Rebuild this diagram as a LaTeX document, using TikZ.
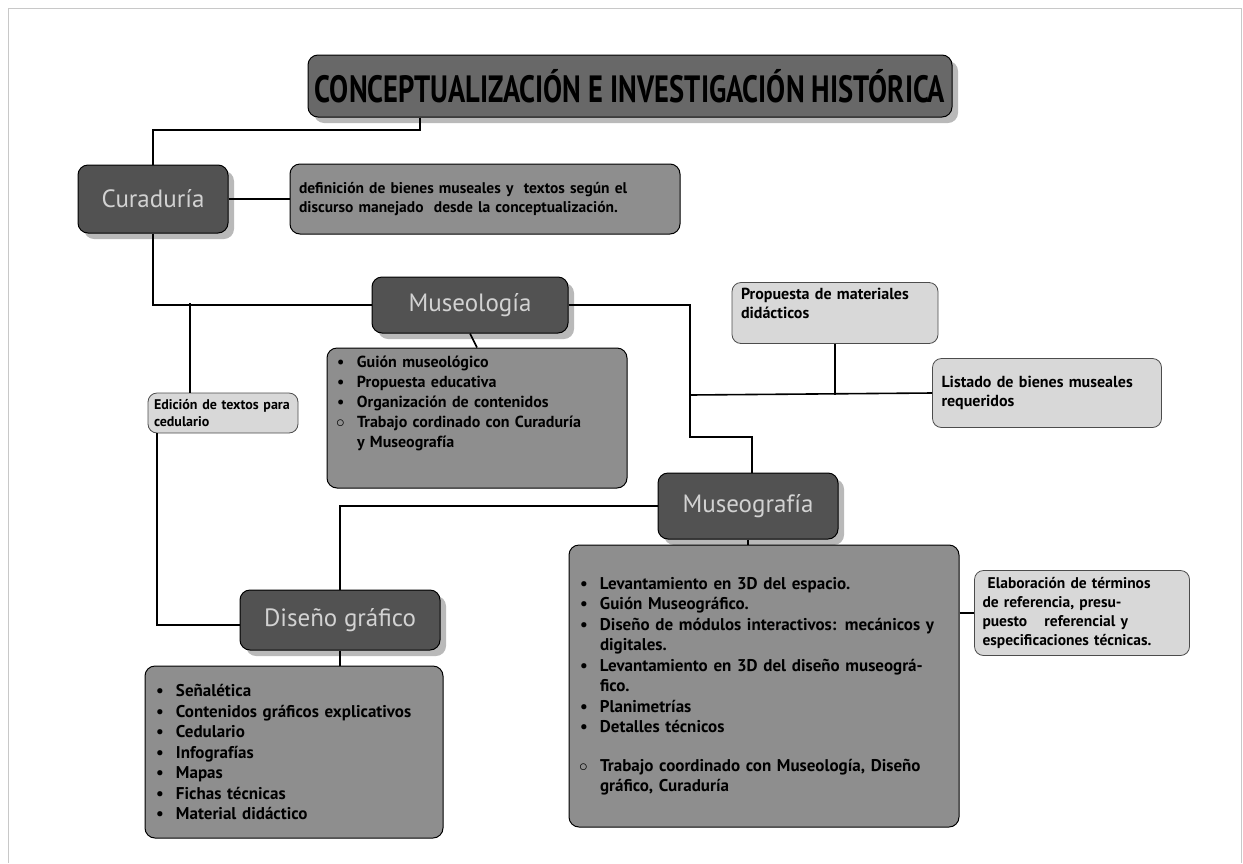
\documentclass[tikz,border=0pt]{standalone}
\usepackage{fontspec}
\setmainfont{PT Sans}
\usepackage{tikz}
\usetikzlibrary{shadows}
\definecolor{dgray}{RGB}{82, 82, 82}
\definecolor{tgray}{RGB}{104, 104, 104}
\definecolor{mgray}{RGB}{142, 142, 142}
\definecolor{lgray}{RGB}{216, 216, 216}
\definecolor{fgray}{RGB}{200, 200, 200}
\definecolor{ltext}{RGB}{210, 210, 210}
\newcommand{\bul}[1]{\makebox[22pt][l]{\hspace{2pt}\textbullet}#1}
\newcommand{\obul}[1]{\makebox[22pt][l]{\hspace{1pt}$\circ$}#1}
\newcommand{\cont}[1]{\hspace*{22pt}#1}

\begin{document}
\begin{tikzpicture}[x=1pt, y=-1pt, line width=1.6pt,
	darkbox/.style={rounded corners=10pt, draw=black, line width=1pt, fill=dgray, text=ltext,
		font=\fontsize{25}{28}\selectfont, drop shadow={shadow xshift=6pt, shadow yshift=-6pt, opacity=.55}},
	midbox/.style={rounded corners=10pt, draw=black, line width=1pt, fill=mgray, align=left,
		font=\fontsize{16}{20}\selectfont\bfseries},
	lightbox/.style={rounded corners=9pt, draw=black!70, line width=.8pt, fill=lgray, align=left,
		font=\fontsize{16}{19}\selectfont\bfseries}]
	\useasboundingbox (0,0) rectangle (1243,863);
	\draw[fgray, line width=1pt] (8,863) -- (8,8) -- (1241,8) -- (1241,863);

	\node (title) at (630,86) [darkbox, fill=tgray, text=black, minimum width=644pt, minimum height=62pt,
		font=\fontsize{38}{40}\selectfont\bfseries] {\scalebox{0.75}[1]{CONCEPTUALIZACIÓN E INVESTIGACIÓN HISTÓRICA}};
	\node (cura) at (153,199) [darkbox, minimum width=150pt, minimum height=68pt] {Curaduría};
	\node (def) at (485,199) [midbox, minimum width=390pt, minimum height=70pt, text width=372pt,
		font=\fontsize{15.5}{19.5}\selectfont\bfseries]
		{definición de bienes museales y\ \ textos según el\\ discurso manejado\ \ desde la conceptualización.};
	\node (musl) at (470,305) [darkbox, minimum width=196pt, minimum height=56pt] {Museología};
	\node (musllist) at (477,418) [midbox, minimum width=300pt, minimum height=140pt, text width=284pt]
		{\bul{Guión museológico}\\ \bul{Propuesta educativa}\\ \bul{Organización de contenidos}\\
		\obul{Trabajo cordinado con Curaduría}\\ \cont{y Museografía}\\[12pt]\mbox{}};
	\node (prop) at (835,313) [lightbox, minimum width=206pt, minimum height=61pt, text width=188pt]
		{Propuesta de materiales\\ didácticos\\[1pt]\mbox{}};
	\node (listado) at (1047,393) [lightbox, minimum width=229pt, minimum height=69pt, text width=211pt]
		{Listado de bienes museales\\ requeridos};
	\node (edic) at (223,413) [lightbox, minimum width=150pt, minimum height=40pt, text width=138pt,
		font=\fontsize{14}{17}\selectfont\bfseries] {Edición de textos para\\ cedulario};
	\node (musg) at (748,506) [darkbox, minimum width=180pt, minimum height=66pt] {Museografía};
	\node (musglist) at (764,686) [midbox, minimum width=390pt, minimum height=282pt, text width=372pt,
		font=\fontsize{17}{20.5}\selectfont\bfseries]
		{\bul{Levantamiento en 3D del espacio.}\\ \bul{Guión Museográfico.}\\
		\bul{Diseño de módulos interactivos: mecánicos y}\\ \cont{digitales.}\\
		\bul{Levantamiento en 3D del diseño museográ-}\\ \cont{fico.}\\
		\bul{Planimetrías}\\ \bul{Detalles técnicos}\\[18pt]
		\obul{Trabajo coordinado con Museología, Diseño}\\ \cont{gráfico, Curaduría}};
	\node (elab) at (1082,613) [lightbox, minimum width=215pt, minimum height=85pt, text width=199pt,
		font=\fontsize{15.5}{19}\selectfont\bfseries]
		{\ Elaboración de términos\\ de referencia, presu-\\ puesto\hspace{12pt} referencial y\\ especificaciones técnicas.};
	\node (dis) at (340,620) [darkbox, minimum width=200pt, minimum height=60pt] {Diseño gráfico};
	\node (dislist) at (294,752) [midbox, minimum width=298pt, minimum height=172pt, text width=280pt,
		font=\fontsize{17}{20.5}\selectfont\bfseries]
		{\bul{Señalética}\\ \bul{Contenidos gráficos explicativos}\\ \bul{Cedulario}\\ \bul{Infografías}\\
		\bul{Mapas}\\ \bul{Fichas técnicas}\\ \bul{Material didáctico}};

	\coordinate (t1) at (420,130);
	\coordinate (c1) at (190,303);
	\coordinate (e1) at (157,625);
	\coordinate (m1) at (690,395);
	\coordinate (m2) at (752,437);
	\draw (title.south -| t1) -- (t1) -| (cura.north);
	\draw (cura.east) -- (def.west);
	\draw (cura.south) |- (musl.west);
	\draw (c1) -- (c1 |- edic.north);
	\draw (edic.south -| e1) -- (e1) -- (e1 -| dis.west);
	\draw (musl.south) -- (musllist.north);
	\draw (musl.east) -| (m1) |- (m2) -- (m2 |- musg.north);
	\draw (m1) -- (listado.west);
	\draw (prop.south) -- (prop.south |- m1);
	\draw (musg.west) -| (dis.north);
	\draw (musg.south) -- (musg.south |- musglist.north);
	\draw (musglist.east |- elab.west) -- (elab.west);
	\draw (dis.south) -- (dis.south |- dislist.north);
\end{tikzpicture}
\end{document}
